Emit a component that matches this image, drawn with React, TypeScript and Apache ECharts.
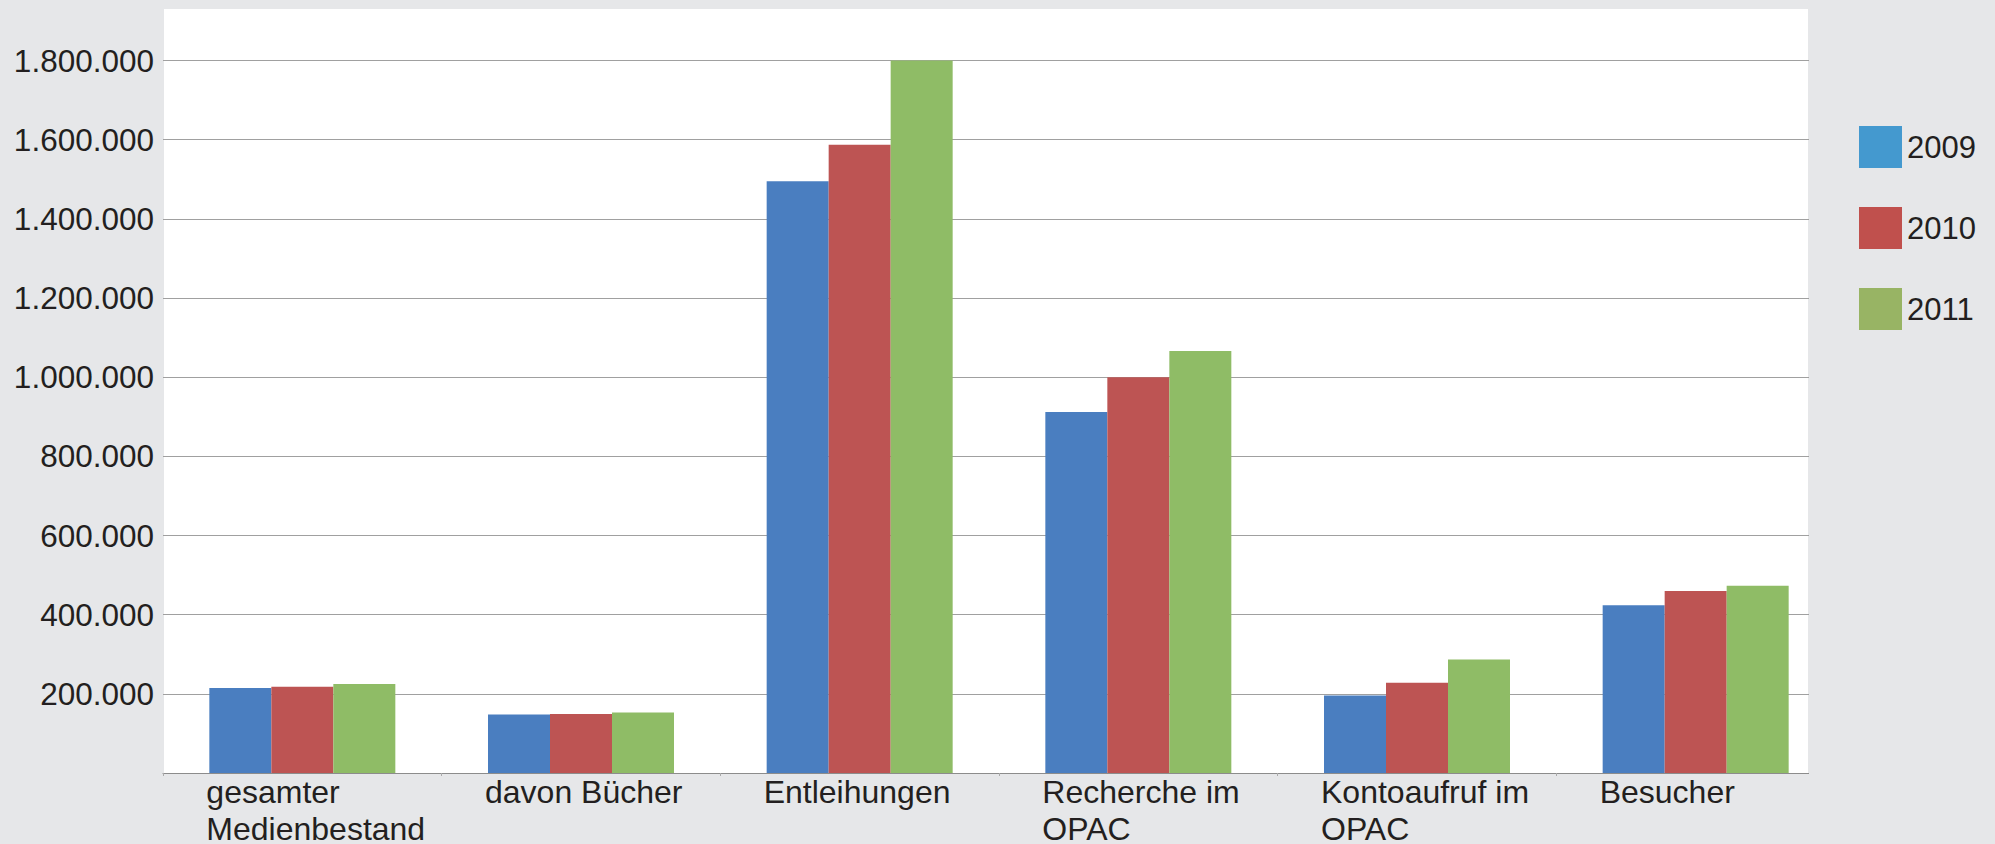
import React, { useEffect, useRef } from "react";
import * as echarts from "echarts";

const categories = [
  "gesamter\nMedienbestand",
  "davon Bücher",
  "Entleihungen",
  "Recherche im\nOPAC",
  "Kontoaufruf im\nOPAC",
  "Besucher",
];
const seriesNames = ["2009", "2010", "2011"];
const values2009 = [215000, 148000, 1495000, 912000, 196000, 424000];
const values2010 = [218000, 149000, 1587000, 1000000, 228000, 460000];
const values2011 = [225000, 153000, 1800000, 1066000, 287000, 473000];
const barColors = ["#4A7EC0", "#BD5453", "#8FBC66"];
const legendColors = ["#4499CF", "#C0504D", "#98B464"];

const FONT = "'Liberation Sans', Arial, Helvetica, sans-serif";
const TEXT = "#231F20";

function fmt(v: number): string {
  return String(Math.round(v)).replace(/\B(?=(\d{3})+(?!\d))/g, ".");
}

export default function App() {
  const ref = useRef<HTMLDivElement>(null);
  useEffect(() => {
    if (!ref.current) return;
    const chart = echarts.init(ref.current, null, { renderer: "svg" });
    const all = [values2009, values2010, values2011];
    chart.setOption({
      animation: false,
      backgroundColor: "#E6E7E9",
      textStyle: { fontFamily: FONT },
      graphic: [
        {
          type: "rect",
          z: -100,
          silent: true,
          shape: { x: 164, y: 9, width: 1644, height: 765 },
          style: { fill: "#FFFFFF" },
        },
        {
          type: "rect",
          z: 100,
          silent: true,
          shape: { x: 1809, y: 0, width: 40, height: 790 },
          style: { fill: "#E6E7E9" },
        },
      ],
      grid: {
        left: 163,
        right: 160,
        top: 60.5,
        bottom: 71,
        containLabel: false,
        outerBoundsMode: "none",
      },
      legend: {
        orient: "vertical",
        left: 1854,
        top: 121,
        itemWidth: 43,
        itemHeight: 42,
        itemGap: 39,
        icon: "rect",
        textStyle: { fontSize: 31, color: TEXT, fontFamily: FONT },
        data: seriesNames.map((n, i) => ({ name: n, itemStyle: { color: legendColors[i] } })),
      },
      xAxis: {
        type: "category",
        data: categories,
        axisLine: { show: true, lineStyle: { color: "#8C8C8C", width: 1 } },
        axisTick: { show: true, length: 3, lineStyle: { color: "#AAAAAA" } },
        axisLabel: {
          interval: 0,
          margin: 0,
          color: TEXT,
          fontSize: 32,
          lineHeight: 37,
          fontFamily: FONT,
          formatter: (v: string) => v.split("\n").map((s) => `{a|${s}}`).join("\n"),
          rich: {
            a: { width: 192, align: "left", fontSize: 32, lineHeight: 37, color: TEXT, fontFamily: FONT },
          },
        },
      },
      yAxis: {
        type: "value",
        min: 0,
        max: 1800000,
        interval: 200000,
        axisLine: { show: false },
        axisTick: { show: false },
        splitLine: { show: true, lineStyle: { color: "#A0A0A0", width: 1 } },
        axisLabel: {
          margin: 9,
          color: TEXT,
          fontSize: 31.5,
          fontFamily: FONT,
          formatter: (v: number) => (v === 0 ? "" : fmt(v)),
        },
      },
      series: seriesNames.map((n, i) => ({
        name: n,
        type: "bar",
        data: all[i],
        barWidth: 62,
        barGap: "0%",
        itemStyle: { color: barColors[i] },
      })),
    });
    return () => chart.dispose();
  }, []);
  return (
    <div
      ref={ref}
      style={{ position: "absolute", left: 0, top: 0, width: 1995, height: 844 }}
    />
  );
}
